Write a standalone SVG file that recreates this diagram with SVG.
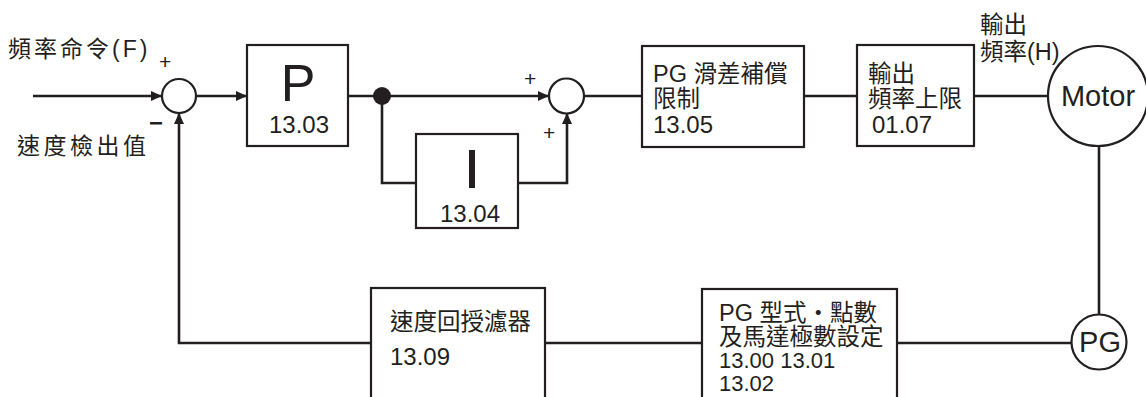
<svg xmlns="http://www.w3.org/2000/svg" width="1146" height="397" viewBox="0 0 1146 397">
<style>
.ln{fill:none;stroke:#231f20;stroke-width:2.6}
.bx{fill:#fff;stroke:#231f20;stroke-width:2.2}
.t{font-family:"Liberation Sans","Noto Sans CJK TC",sans-serif;fill:#231f20}
.c{font-size:23.5px}
.n{font-size:24px}
</style>
<defs>
<marker id="ar" markerUnits="userSpaceOnUse" markerWidth="12" markerHeight="10" refX="11" refY="5" orient="auto">
<path d="M0,0 L11,5 L0,10 z" fill="#231f20"/>
</marker>
</defs>
<rect width="1146" height="397" fill="#fff"/>
<g id="connectors">
<path class="ln" d="M33,96 H162" marker-end="url(#ar)"/>
<path class="ln" d="M196,96 H247" marker-end="url(#ar)"/>
<path class="ln" d="M348,96 H549" marker-end="url(#ar)"/>
<path class="ln" d="M382,96 V183 H416"/>
<path class="ln" d="M518,183 H567 V113" marker-end="url(#ar)"/>
<path class="ln" d="M584,96 H642"/>
<path class="ln" d="M804,96 H857"/>
<path class="ln" d="M974,96 H1047"/>
<path class="ln" d="M1099,146 V314"/>
<path class="ln" d="M1071,343 H897"/>
<path class="ln" d="M702,343 H545"/>
<path class="ln" d="M371,343 H179 V113" marker-end="url(#ar)"/>
<circle cx="382" cy="96" r="9" fill="#231f20"/>
</g>
<g id="labels">
<text class="t" x="8" y="57" font-size="23" letter-spacing="3">頻率命令(F)</text>
<text class="t" x="17" y="154" font-size="23" letter-spacing="3.5">速度檢出值</text>
<text class="t" x="159" y="69" font-size="21">+</text>
<text class="t" x="149" y="131" font-size="24" font-weight="bold">−</text>
<text class="t" x="524" y="86" font-size="21">+</text>
<text class="t" x="543" y="140" font-size="21">+</text>
<text class="t c" x="980" y="33">輸出</text>
<text class="t c" x="980" y="60">頻率(H)</text>
</g>
<g id="sum1"><circle class="bx" cx="179" cy="96" r="17"/></g>
<g id="sum2"><circle class="bx" cx="566.5" cy="96" r="17.5"/></g>
<g id="p">
<rect class="bx" x="247" y="45" width="101" height="101"/>
<text class="t" x="298" y="101" font-size="52" text-anchor="middle">P</text>
<text class="t n" x="299" y="133" text-anchor="middle">13.03</text>
</g>
<g id="i">
<rect class="bx" x="416" y="134" width="102" height="94"/>
<rect x="469" y="150" width="6" height="38" fill="#231f20"/>
<text class="t n" x="470" y="222" text-anchor="middle">13.04</text>
</g>
<g id="slip">
<rect class="bx" x="642" y="46" width="162" height="101"/>
<text class="t c" x="653" y="82">PG 滑差補償</text>
<text class="t c" x="653" y="107">限制</text>
<text class="t n" x="653" y="133">13.05</text>
</g>
<g id="limit">
<rect class="bx" x="857" y="45" width="117" height="101"/>
<text class="t c" x="868" y="82">輸出</text>
<text class="t c" x="868" y="107">頻率上限</text>
<text class="t n" x="872" y="133">01.07</text>
</g>
<g id="motor">
<circle class="bx" cx="1098" cy="96" r="50"/>
<text class="t" x="1098" y="106" font-size="29" text-anchor="middle">Motor</text>
</g>
<g id="pg">
<circle class="bx" cx="1099" cy="342" r="27.5"/>
<text class="t" x="1100" y="352" font-size="29" text-anchor="middle">PG</text>
</g>
<g id="pgset">
<rect class="bx" x="702" y="289" width="195" height="120"/>
<text class="t c" x="719" y="321">PG 型式・點數</text>
<text class="t c" x="719" y="345">及馬達極數設定</text>
<text class="t" x="719" y="368" font-size="22">13.00 13.01</text>
<text class="t" x="719" y="391" font-size="22">13.02</text>
</g>
<g id="filter">
<rect class="bx" x="371" y="288" width="174" height="120"/>
<text class="t c" x="390" y="330">速度回授濾器</text>
<text class="t n" x="390" y="365">13.09</text>
</g>
</svg>
